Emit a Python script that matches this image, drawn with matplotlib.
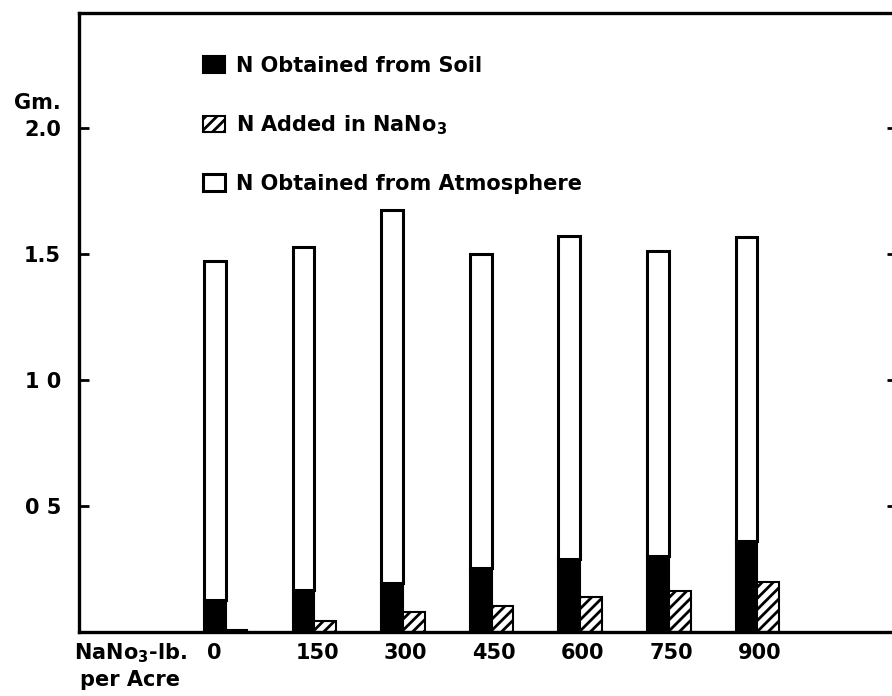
import matplotlib.pyplot as plt
import numpy as np

plt.rcParams['font.family'] = ['DejaVu Sans']
plt.rcParams['hatch.linewidth'] = 2.0

# dawki saletry (lb na akr) i azot w roślinie (g)
dawki = ['0', '150', '300', '450', '600', '750', '900']
n_z_gleby = [0.125, 0.167, 0.195, 0.252, 0.29, 0.30, 0.36]
n_z_nano3 = [0.006, 0.044, 0.080, 0.103, 0.140, 0.163, 0.198]
n_razem = [1.472, 1.528, 1.675, 1.500, 1.571, 1.512, 1.567]
n_z_atmosfery = [r - g for r, g in zip(n_razem, n_z_gleby)]

y_ticki = [0.5, 1.0, 1.5, 2.0]
y_etykiety = ['0 5', '1 0', '1.5', '2.0']

fig = plt.figure(figsize=(8.92, 6.96), dpi=100)
ax = fig.add_axes([79 / 892, 64 / 696, 818 / 892, 619 / 696])

x = np.arange(len(dawki))
szer = 0.245
gleba = ax.bar(x, n_z_gleby, width=szer, align='edge', color='black',
               edgecolor='black', linewidth=1.5)
atmos = ax.bar(x, n_z_atmosfery, width=szer, bottom=n_z_gleby, align='edge',
               color='white', edgecolor='black', linewidth=2.2)
nano3 = ax.bar(x + szer, n_z_nano3, width=szer, align='edge', color='white',
               edgecolor='black', linewidth=1.5, hatch='///')

ax.set_xlim(-1.41, 7.82)
ax.set_ylim(0, 2.455)

for s in ax.spines.values():
    s.set_linewidth(2.4)

ax.set_yticks(y_ticki)
ax.set_yticklabels(y_etykiety, fontsize=15, fontweight='bold')
ax.tick_params(axis='y', direction='in', length=7, width=2, pad=13,
               right=True)
ax.set_xticks(x + 0.03)
ax.set_xticklabels(dawki, fontsize=15, fontweight='bold', ha='left')
ax.tick_params(axis='x', length=0, pad=8)

fig.text(61 / 892, 1 - 103 / 696, 'Gm.', fontsize=15, fontweight='bold',
         ha='right', va='center')
fig.text(130 / 892, 1 - 653 / 696, r'NaNo$_\mathbf{3}$-lb.', fontsize=15,
         fontweight='bold', ha='center', va='center')
fig.text(130 / 892, 1 - 680 / 696, 'per Acre', fontsize=15,
         fontweight='bold', ha='center', va='center')

ax.legend([gleba[0], nano3[0], atmos[0]],
          ['N Obtained from Soil', r'N Added in NaNo$_\mathbf{3}$',
           'N Obtained from Atmosphere'],
          loc='upper left', bbox_to_anchor=(203 / 892, 1 - 56 / 696),
          bbox_transform=fig.transFigure, frameon=False, borderpad=0,
          borderaxespad=0, handlelength=1.05, handleheight=0.85,
          handletextpad=0.55, labelspacing=1.78,
          prop={'size': 15, 'weight': 'bold'})

fig.savefig('out.png', dpi=100)
